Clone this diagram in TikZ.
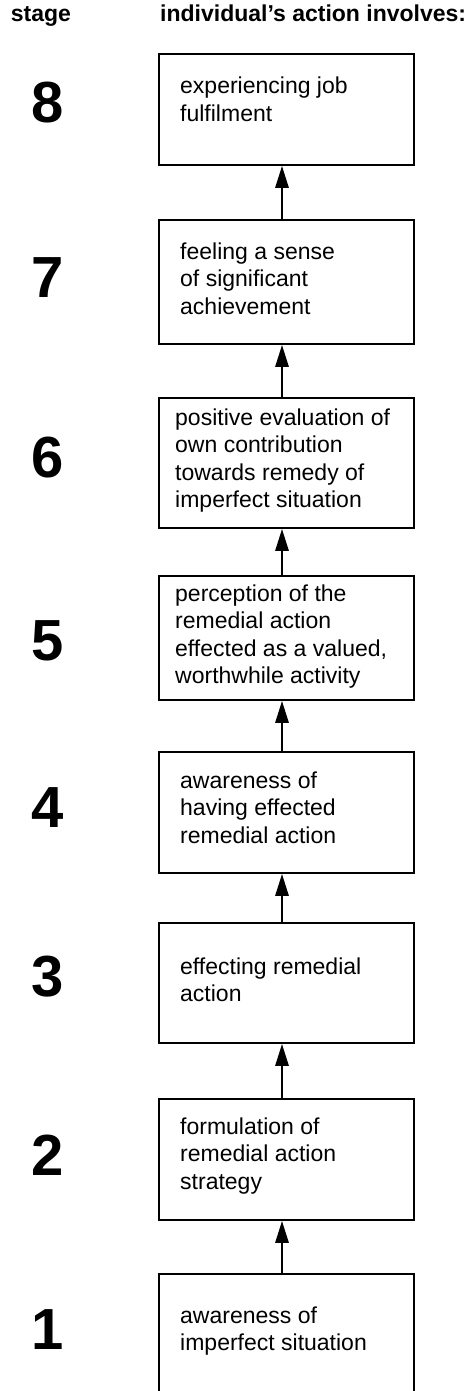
\documentclass[tikz,border=0pt]{standalone}
\usepackage{fontspec}
\setmainfont{Liberation Sans}
\usetikzlibrary{arrows.meta,calc}
\begin{document}
\begin{tikzpicture}[x=1pt,y=-1pt,
  box/.style={draw,line width=1.8pt,minimum width=255pt,inner sep=0pt,anchor=north west},
  txt/.style={inner sep=0pt,anchor=base west,font=\fontsize{23}{27.5}\selectfont},
  dig/.style={inner sep=0pt,font=\fontsize{58}{60}\selectfont\bfseries},
  hdr/.style={inner sep=0pt,font=\fontsize{23}{26}\selectfont\bfseries},
  arr/.style={line width=2.8pt,-{Triangle[length=22pt,width=13pt]}}]
\useasboundingbox (0,0) rectangle (470,1391);
\clip (0,0) rectangle (470,1391);
\newcommand{\bt}[1]{\parbox[t]{240pt}{\raggedright #1}}
% headers
\node[hdr,anchor=base] (hs) at (41,22) {stage};
\node[hdr,anchor=base west] (hi) at (160,22) {individual’s action involves:};
% boxes
\node[box,minimum height=111pt] (b8) at (158,53) {};
\node[box,minimum height=124pt] (b7) at (158,219) {};
\node[box,minimum height=130pt] (b6) at (158,397) {};
\node[box,minimum height=124pt] (b5) at (158,575) {};
\node[box,minimum height=121pt] (b4) at (158,751) {};
\node[box,minimum height=120pt] (b3) at (158,922) {};
\node[box,minimum height=121pt] (b2) at (158,1098) {};
\node[box,minimum height=200pt] (b1) at (158,1273) {};
% texts
\node[txt] (t8) at (180,94) {\bt{experiencing job\\fulfilment}};
\node[txt] (t7) at (180,259) {\bt{feeling a sense\\of significant\\achievement}};
\node[txt] (t6) at (175,425) {\bt{positive evaluation of\\own contribution\\towards remedy of\\imperfect situation}};
\node[txt] (t5) at (175,601) {\bt{perception of the\\remedial action\\effected as a valued,\\worthwhile activity}};
\node[txt] (t4) at (180,788) {\bt{awareness of\\having effected\\remedial action}};
\node[txt] (t3) at (180,974) {\bt{effecting remedial\\action}};
\node[txt] (t2) at (180,1134) {\bt{formulation of\\remedial action\\strategy}};
\node[txt] (t1) at (180,1323) {\bt{awareness of\\imperfect situation}};
% stage numbers
\node[dig] (s8) at (48,103) {8};
\node[dig] (s7) at (48,278) {7};
\node[dig] (s6) at (48,458) {6};
\node[dig] (s5) at (48,641) {5};
\node[dig] (s4) at (48,808) {4};
\node[dig] (s3) at (48,977) {3};
\node[dig] (s2) at (48,1155) {2};
\node[dig] (s1) at (48,1330) {1};
% arrows
\coordinate (ax) at (282,0);
\draw[arr] (b1.north -| ax) -- (b2.south -| ax);
\draw[arr] (b2.north -| ax) -- (b3.south -| ax);
\draw[arr] (b3.north -| ax) -- (b4.south -| ax);
\draw[arr] (b4.north -| ax) -- (b5.south -| ax);
\draw[arr] (b5.north -| ax) -- (b6.south -| ax);
\draw[arr] (b6.north -| ax) -- (b7.south -| ax);
\draw[arr] (b7.north -| ax) -- (b8.south -| ax);
\end{tikzpicture}
\end{document}
